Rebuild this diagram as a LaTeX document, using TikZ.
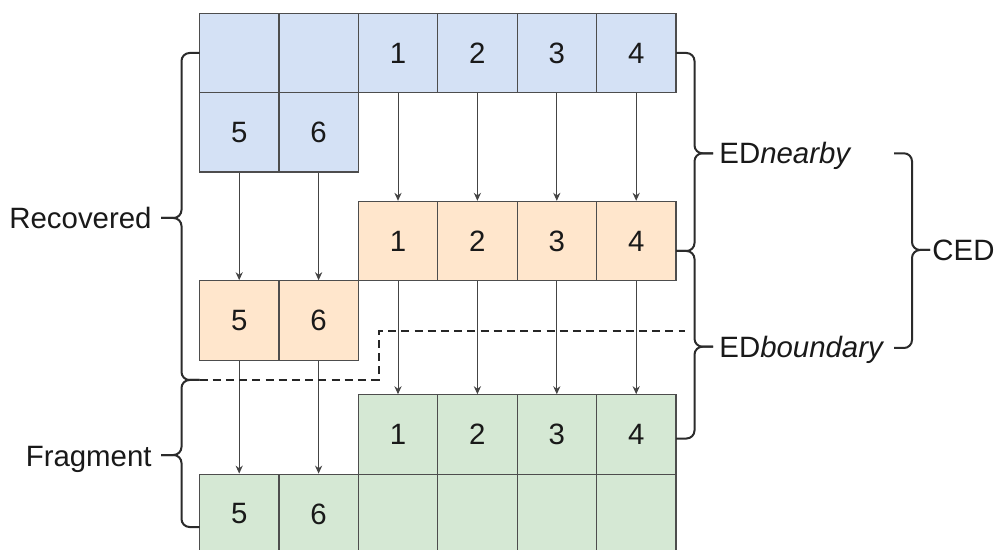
\documentclass[tikz,border=0pt]{standalone}
\usepackage{fontspec}
\setmainfont{Liberation Sans}
\usetikzlibrary{arrows.meta}

\definecolor{corAzul}{HTML}{D4E1F5}
\definecolor{corLaranja}{HTML}{FFE6CC}
\definecolor{corVerde}{HTML}{D5E8D4}
\definecolor{corBorda}{HTML}{4D4D4D}
\definecolor{corSeta}{HTML}{444444}
\definecolor{corChave}{HTML}{2B2B2B}

\begin{document}
\begin{tikzpicture}[
      x=0.5pt, y=-0.5pt,
      >=Stealth,
      texto/.style={font=\fontsize{14.7}{17}\selectfont, text=black!90, inner sep=0pt},
      celula/.style={texto, draw=corBorda, line width=0.6pt,
                     minimum width=39.7pt, minimum height=39.7pt},
      azulcel/.style={celula, fill=corAzul},
      laranjacel/.style={celula, fill=corLaranja},
      verdecel/.style={celula, fill=corVerde},
      seta/.style={->, line width=0.5pt, corSeta, >={Stealth[length=4pt,width=3.6pt]}},
      chave/.style={line width=1pt, corChave, rounded corners=4pt},
      divisa/.style={line width=1pt, black!85, dash pattern=on 4pt off 2.6pt}
  ]
      \useasboundingbox (0,0) rectangle (995,550);

      % Bloco recuperado
      \node[azulcel] (a0)  at (239.2,53) {};
      \node[azulcel] (a00) at (318.6,53) {};
      \node[azulcel] (a1)  at (398,53)   {1};
      \node[azulcel] (a2)  at (477.4,53) {2};
      \node[azulcel] (a3)  at (556.8,53) {3};
      \node[azulcel] (a4)  at (636.2,53) {4};
      \node[azulcel] (a5)  at (239.2,132.4) {5};
      \node[azulcel] (a6)  at (318.6,132.4) {6};

      % Bloco intermediario
      \node[laranjacel] (b1) at (398,241.1)   {1};
      \node[laranjacel] (b2) at (477.4,241.1) {2};
      \node[laranjacel] (b3) at (556.8,241.1) {3};
      \node[laranjacel] (b4) at (636.2,241.1) {4};
      \node[laranjacel] (b5) at (239.2,320.5) {5};
      \node[laranjacel] (b6) at (318.6,320.5) {6};

      % Fragmento
      \node[verdecel] (c1)  at (398,434.5)   {1};
      \node[verdecel] (c2)  at (477.4,434.5) {2};
      \node[verdecel] (c3)  at (556.8,434.5) {3};
      \node[verdecel] (c4)  at (636.2,434.5) {4};
      \node[verdecel] (c5)  at (239.2,513.9) {5};
      \node[verdecel] (c6)  at (318.6,513.9) {6};
      \node[verdecel] (cv1) at (398,513.9)   {};
      \node[verdecel] (cv2) at (477.4,513.9) {};
      \node[verdecel] (cv3) at (556.8,513.9) {};
      \node[verdecel] (cv4) at (636.2,513.9) {};

      % Setas entre blocos
      \draw[seta] (a1) -- (b1);
      \draw[seta] (a2) -- (b2);
      \draw[seta] (a3) -- (b3);
      \draw[seta] (a4) -- (b4);
      \draw[seta] (a5) -- (b5);
      \draw[seta] (a6) -- (b6);
      \draw[seta] (b1) -- (c1);
      \draw[seta] (b2) -- (c2);
      \draw[seta] (b3) -- (c3);
      \draw[seta] (b4) -- (c4);
      \draw[seta] (b5) -- (c5);
      \draw[seta] (b6) -- (c6);

      % Linha divisoria
      \draw[divisa] (199.5,380) -- (378.5,380) -- (378.5,331) -- (685,331);

      % Rotulos
      \node[texto, anchor=base east] (recup) at (152,229) {Recovered};
      \node[texto, anchor=base east] (frag)  at (152,466) {Fragment};
      \node[texto, anchor=base west] (edn)   at (719,164) {ED\textit{nearby}};
      \node[texto, anchor=base west] (edb)   at (719,357.5) {ED\textit{boundary}};
      \node[texto, anchor=base west] (ced)   at (932,261) {CED};

      % Chaves da esquerda
      \draw[chave] (199.5,53)  -- (181.5,53)  -- (181.5,218) -- (161,218);
      \draw[chave] (199.5,380) -- (181.5,380) -- (181.5,218) -- (161,218);
      \draw[chave] (199.5,380) -- (181.5,380) -- (181.5,455) -- (161,455);
      \draw[chave] (199.5,527) -- (181.5,527) -- (181.5,455) -- (161,455);

      % Chaves da direita
      \draw[chave] (676,53)    -- (694.5,53)    -- (694.5,153.3) -- (713,153.3);
      \draw[chave] (676,251)   -- (694.5,251)   -- (694.5,153.3) -- (713,153.3);
      \draw[chave] (676,251)   -- (694.5,251)   -- (694.5,346.7) -- (713,346.7);
      \draw[chave] (676,438.5) -- (694.5,438.5) -- (694.5,346.7) -- (713,346.7);

      % Chave CED
      \draw[chave] (894,153.3) -- (912,153.3) -- (912,250) -- (930,250);
      \draw[chave] (894,348)   -- (912,348)   -- (912,250) -- (930,250);
  \end{tikzpicture}
\end{document}
